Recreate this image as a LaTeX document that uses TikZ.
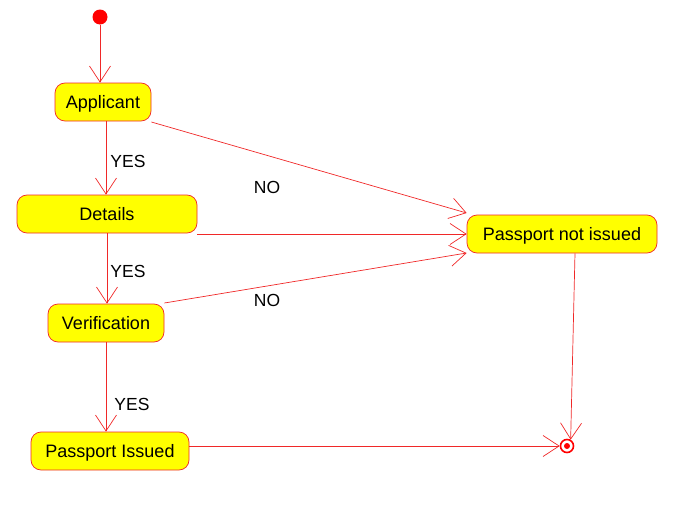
\documentclass[tikz,border=0pt]{standalone}
\usepackage{fontspec}
\setmainfont{Liberation Sans}
\usetikzlibrary{arrows.meta}
\definecolor{stateline}{RGB}{240,40,40}
\definecolor{statefill}{RGB}{255,255,0}
\begin{document}
\begin{tikzpicture}[x=1pt,y=-1pt,
		flow/.style={draw=stateline, line width=0.7pt, -{Straight Barb[length=16pt,width=21pt,line width=0.7pt]}},
		lbl/.style={font=\fontsize{17.5}{20}\selectfont, inner sep=0pt}]
		\useasboundingbox (0,0) rectangle (689,514);

		\begin{scope}[every node/.style={draw=stateline, fill=statefill, rounded corners=10pt, line width=0.7pt, minimum height=38pt, inner sep=0pt, text height=12.9pt, text depth=0pt, font=\fontsize{18}{20}\selectfont}]
			\node[minimum width=96pt] (applicant) at (103,102) {Applicant};
			\node[minimum width=180pt] (details) at (107,214) {Details};
			\node[minimum width=116pt] (verification) at (106,323) {Verification};
			\node[minimum width=158pt] (issued) at (110,451) {Passport Issued};
			\node[minimum width=190pt] (notissued) at (562,234) {Passport not issued};
		\end{scope}

		\node[circle, fill=red, inner sep=0pt, minimum size=15pt] (start) at (100,17) {};
		\node[circle, draw=red, line width=1.6pt, inner sep=0pt, minimum size=13pt] (final) at (567,446) {};
		\fill[red] (final) circle (3pt);

		\begin{scope}
			\draw[flow] (start) -- (start |- applicant.north);
			\draw[flow] (applicant.south -| 106,0) -- (details.north -| 106,0);
			\draw[flow] (details.south -| 107,0) -- (verification.north -| 107,0);
			\draw[flow] (verification.south -| 106,0) -- (issued.north -| 106,0);
			\draw[flow] (applicant.east |- 0,122) -- (notissued.west |- 0,213);
			\draw[flow] (details.east |- 0,234) -- (notissued.west |- 0,234);
			\draw[flow] (verification.east |- 0,303) -- (notissued.west |- 0,253);
			\draw[flow] (issued.east |- 0,446) -- (final.west);
			\draw[flow] (notissued.south -| 575,0) -- (final.60);
		\end{scope}

		\node[lbl] (yes1) at (128,161) {YES};
		\node[lbl] (yes2) at (128,271) {YES};
		\node[lbl] (yes3) at (132,404) {YES};
		\node[lbl] (no1) at (267,187) {NO};
		\node[lbl] (no2) at (267,300) {NO};
	\end{tikzpicture}
\end{document}
